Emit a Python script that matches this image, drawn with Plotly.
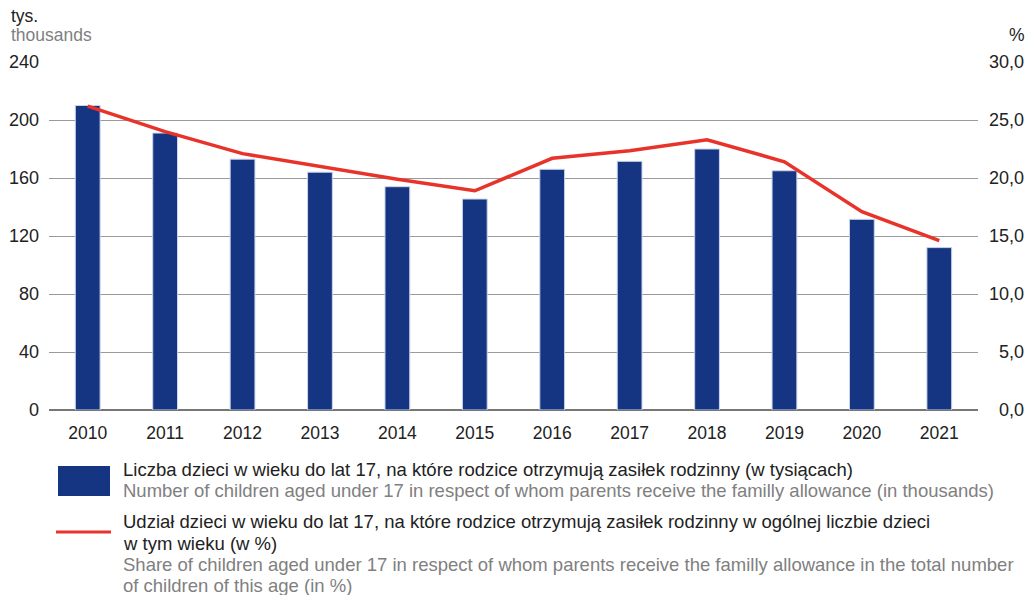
import plotly.graph_objects as go

years = ["2010", "2011", "2012", "2013", "2014", "2015", "2016", "2017", "2018", "2019", "2020", "2021"]
children_thousands = [210, 191, 173, 164, 154, 145.5, 166, 171.5, 180, 165, 131.5, 112]
share_percent = [26.2, 24.0, 22.1, 21.0, 19.9, 18.9, 21.7, 22.35, 23.3, 21.4, 17.1, 14.6]

left_ticks = [0, 40, 80, 120, 160, 200, 240]
right_ticks = [0, 5, 10, 15, 20, 25, 30]
right_ticktext = ["\u20070,0", "\u20075,0", "10,0", "15,0", "20,0", "25,0", "30,0"]

bar_name_pl = ["Liczba dzieci w wieku do lat 17, na które rodzice otrzymują zasiłek rodzinny (w tysiącach)"]
bar_name_en = ["Number of children aged under 17 in respect of whom parents receive the familly allowance (in thousands)"]
line_name_pl = ["Udział dzieci w wieku do lat 17, na które rodzice otrzymują zasiłek rodzinny w ogólnej liczbie dzieci",
                "w tym wieku (w %)"]
line_name_en = ["Share of children aged under 17 in respect of whom parents receive the familly allowance in the total number",
                "of children of this age (in %)"]

BLUE = "#153582"
RED = "#e8332a"
FONT = "Liberation Sans"

fig = go.Figure()
fig.add_trace(go.Bar(x=years, y=children_thousands, marker=dict(color=BLUE, line=dict(color="#c9d3ea", width=1)),
                     width=0.32, showlegend=False, yaxis="y"))
fig.add_trace(go.Scatter(x=years, y=share_percent, mode="lines", line=dict(color=RED, width=3.5),
                         showlegend=False, yaxis="y2"))

W, H = 1033, 595
L, R, T, B = 49, 55, 62, 185
pw, ph = W - L - R, H - T - B

fig.update_layout(
    width=W, height=H,
    margin=dict(l=L, r=R, t=T, b=B, autoexpand=False),
    paper_bgcolor="white", plot_bgcolor="white",
    font=dict(family=FONT, size=16, color="#222222"),
    xaxis=dict(type="category", showgrid=False, showline=False, ticks="", ticklabelstandoff=10,
               tickfont=dict(size=17.5, color="#222222")),
    yaxis=dict(range=[0, 240], tickvals=left_ticks, showgrid=True, gridcolor="#9a9a9a", gridwidth=1,
               zeroline=True, zerolinecolor="#777777", zerolinewidth=1.5,
               ticks="", ticklabelstandoff=9, tickfont=dict(size=18, color="#222222")),
    yaxis2=dict(range=[0, 30], overlaying="y", side="right", tickvals=right_ticks, ticktext=right_ticktext,
                showgrid=False, zeroline=False, ticks="", ticklabelstandoff=10,
                tickfont=dict(size=18, color="#222222")),
)


def px(x):
    return (x - L) / pw


def py(y):
    return (H - B - y) / ph


final = []
for txt, x, y, col, anchor in [("tys.", 9, 16, "#222222", "left"), ("thousands", 9, 35, "#808080", "left"),
                               ("%", 1027, 35, "#222222", "right")]:
    final.append(dict(text=txt, x=px(x), y=py(y), xref="paper", yref="paper", xanchor=anchor, yanchor="middle",
                      showarrow=False, font=dict(size=17.5, color=col)))

legend_lines = [
    (bar_name_pl[0], 469, "#222222"),
    (bar_name_en[0], 490, "#808080"),
    (line_name_pl[0], 521, "#222222"),
    (line_name_pl[1], 543, "#222222"),
    (line_name_en[0], 564, "#808080"),
    (line_name_en[1], 585, "#808080"),
]
for txt, y, col in legend_lines:
    final.append(dict(text=txt, x=px(121), y=py(y), xref="paper", yref="paper", xanchor="left", yanchor="middle",
                      showarrow=False, align="left", font=dict(family=FONT, size=18.5, color=col)))

fig.update_layout(annotations=final)
fig.update_layout(shapes=[
    dict(type="rect", xref="paper", yref="paper", x0=px(58), x1=px(110), y0=py(466), y1=py(496),
         fillcolor=BLUE, line=dict(width=0)),
    dict(type="line", xref="paper", yref="paper", x0=px(56), x1=px(111), y0=py(532), y1=py(532),
         line=dict(color=RED, width=3)),
])

fig.write_html("out.html", config={"displayModeBar": False},
               post_script="document.body.style.margin='0';document.body.style.overflow='hidden';")
